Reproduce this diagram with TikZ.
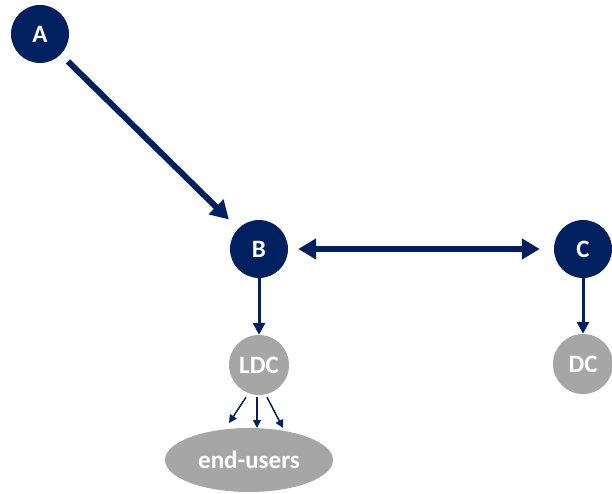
\documentclass[tikz,border=0pt]{standalone}
\usepackage{fontspec}
\setmainfont{Carlito}
\usetikzlibrary{arrows.meta,shapes.geometric}
\definecolor{navy}{HTML}{002060}
\definecolor{greyfill}{HTML}{A6A6A6}
\begin{document}
\begin{tikzpicture}[x=1pt,y=-1pt,
  hub/.style={circle,fill=navy,minimum size=58pt,inner sep=0pt,text=white,font=\bfseries\fontsize{25}{29}\selectfont},
  sub/.style={circle,fill=greyfill,minimum size=60pt,inner sep=0pt,text=white,font=\bfseries\fontsize{25}{29}\selectfont},
  users/.style={ellipse,fill=greyfill,minimum width=168pt,minimum height=64pt,inner sep=0pt,text=white,font=\bfseries\fontsize{25}{29}\selectfont},
  bigarrow/.style={navy,line width=6pt,-{Triangle[length=18pt,width=20pt]}},
  botharrow/.style={navy,line width=6pt,{Triangle[length=18pt,width=20pt]}-{Triangle[length=18pt,width=20pt]}},
  midarrow/.style={navy,line width=3pt,-{Triangle[length=12pt,width=12pt]}},
  smallarrow/.style={navy,line width=1.5pt,-{Triangle[length=8pt,width=8pt]}}
]
\useasboundingbox (0,0) rectangle (612,494);
% nodes
\node[hub] (A) at (40,34) {A};
\node[hub] (B) at (259,249) {B};
\node[hub] (C) at (583,249) {C};
\node[sub] (LDC) at (259,365) {LDC};
\node[sub] (DC) at (583,364) {DC};
\node[users] (EU) at (249,460) {end-users};
% end points of the fan below LDC
\coordinate (f1) at (229,423);
\coordinate (f2) at (257,428);
\coordinate (f3) at (283,428);
% connectors
\draw[bigarrow,shorten <=10pt,shorten >=13pt] (A) -- (B);
\draw[botharrow,shorten <=10pt,shorten >=14pt] (B) -- (C);
\draw[midarrow] (B.south) -- (LDC.north);
\draw[midarrow] (C.south) -- (DC.north);
\draw[smallarrow] ([shift={(-13,2)}]LDC.south) -- (f1);
\draw[smallarrow] ([shift={(-2,2)}]LDC.south) -- (f2);
\draw[smallarrow] ([shift={(8,2)}]LDC.south) -- (f3);
\end{tikzpicture}
\end{document}
